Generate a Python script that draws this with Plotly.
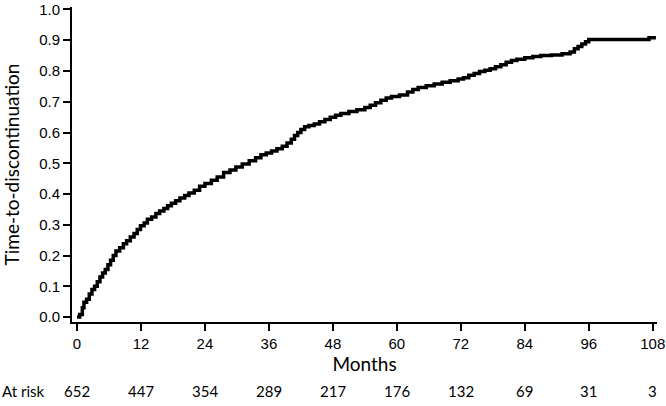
import plotly.graph_objects as go

# Step times (months) and cumulative probability of discontinuation
months = [0, 0.5, 1.0, 1.3, 1.8, 2.3, 2.8, 3.3, 3.8, 4.3, 4.8, 5.3, 5.8, 6.3, 6.8, 7.3,
          8.0, 8.7, 9.3, 10.0, 10.7, 11.3, 11.9, 12.6, 13.2, 14.0, 14.8, 15.5, 16.3,
          17.0, 17.7, 18.5, 19.3, 20.2, 21.0, 22.0, 23.0, 24.0, 25.2, 26.3, 27.5, 28.7,
          29.8, 31.0, 32.3, 33.5, 34.5, 35.5, 36.5, 37.5, 38.5, 39.4, 40.2, 40.8, 41.4,
          42.0, 42.7, 43.5, 44.5, 45.5, 46.5, 47.5, 48.5, 49.5, 51.0, 52.5, 54.0, 55.0,
          56.0, 57.0, 58.0, 59.0, 60.5, 62.0, 63.0, 64.0, 65.5, 67.0, 68.5, 70.0, 71.5,
          72.5, 73.5, 74.5, 75.5, 76.5, 77.5, 78.5, 79.5, 80.5, 81.5, 82.5, 84.0, 85.5,
          87.0, 89.0, 91.0, 92.5, 93.3, 94.0, 94.7, 95.4, 96.0, 107.3, 108.6]
prob = [0.000, 0.008, 0.030, 0.048, 0.058, 0.075, 0.090, 0.100, 0.115, 0.130, 0.143,
        0.155, 0.170, 0.185, 0.200, 0.215, 0.225, 0.238, 0.248, 0.260, 0.272, 0.285,
        0.297, 0.306, 0.318, 0.325, 0.337, 0.345, 0.353, 0.362, 0.370, 0.378, 0.387,
        0.395, 0.403, 0.412, 0.425, 0.434, 0.445, 0.455, 0.470, 0.478, 0.488, 0.498,
        0.508, 0.518, 0.528, 0.533, 0.540, 0.547, 0.555, 0.566, 0.578, 0.590, 0.600,
        0.610, 0.619, 0.623, 0.628, 0.635, 0.642, 0.650, 0.656, 0.662, 0.668, 0.674,
        0.681, 0.689, 0.697, 0.705, 0.712, 0.717, 0.722, 0.732, 0.740, 0.746, 0.752,
        0.758, 0.763, 0.768, 0.774, 0.778, 0.786, 0.792, 0.798, 0.802, 0.807, 0.814,
        0.820, 0.828, 0.834, 0.838, 0.843, 0.847, 0.850, 0.852, 0.856, 0.862, 0.872,
        0.880, 0.888, 0.895, 0.902, 0.908, 0.908]

tick_months = [0, 12, 24, 36, 48, 60, 72, 84, 96, 108]
at_risk = [652, 447, 354, 289, 217, 176, 132, 69, 31, 3]
y_ticks = [0.0, 0.1, 0.2, 0.3, 0.4, 0.5, 0.6, 0.7, 0.8, 0.9, 1.0]

tick_font = dict(family="Liberation Sans", size=15, color="black")
title_font = dict(family="Lato", size=19, color="black")
risk_font = dict(family="Lato", size=15, color="black")

fig = go.Figure()
fig.add_trace(go.Scatter(
    x=months, y=prob, mode="lines", line=dict(color="black", width=3.5, shape="hv"),
    showlegend=False, hoverinfo="skip", cliponaxis=False))

fig.update_layout(
    template="none",
    width=666, height=406, plot_bgcolor="white", paper_bgcolor="white",
    margin=dict(l=72, r=9, t=7, b=84),
)
fig.update_xaxes(
    automargin=False, ticklabeloverflow="allow",
    range=[-0.94, 108.8], tickvals=tick_months, ticktext=[str(m) for m in tick_months],
    showline=True, linecolor="black", linewidth=2, ticks="outside", ticklen=7,
    tickwidth=2, tickcolor="black", showgrid=False, zeroline=False, tickfont=tick_font,
    title=dict(text="Months", font=title_font, standoff=0),
)
fig.update_yaxes(
    automargin=False, ticklabeloverflow="allow",
    range=[-0.016, 1.008], tickvals=y_ticks, ticktext=[f"{v:.1f}" for v in y_ticks],
    showline=True, linecolor="black", linewidth=2, ticks="outside", ticklen=7,
    tickwidth=2, tickcolor="black", showgrid=False, zeroline=False, tickfont=tick_font,
    title=dict(text="Time-to-discontinuation", font=title_font, standoff=22),
)

fig.add_annotation(x=-72 / 585, xref="paper", xanchor="left", y=0, yref="paper",
                   yshift=-69, yanchor="middle", text="At risk", showarrow=False,
                   font=risk_font)
for m, n in zip(tick_months, at_risk):
    fig.add_annotation(x=m, xref="x", y=0, yref="paper", yshift=-69, text=str(n),
                       showarrow=False, font=risk_font, xanchor="center", yanchor="middle")

fig.write_html("out.html")
